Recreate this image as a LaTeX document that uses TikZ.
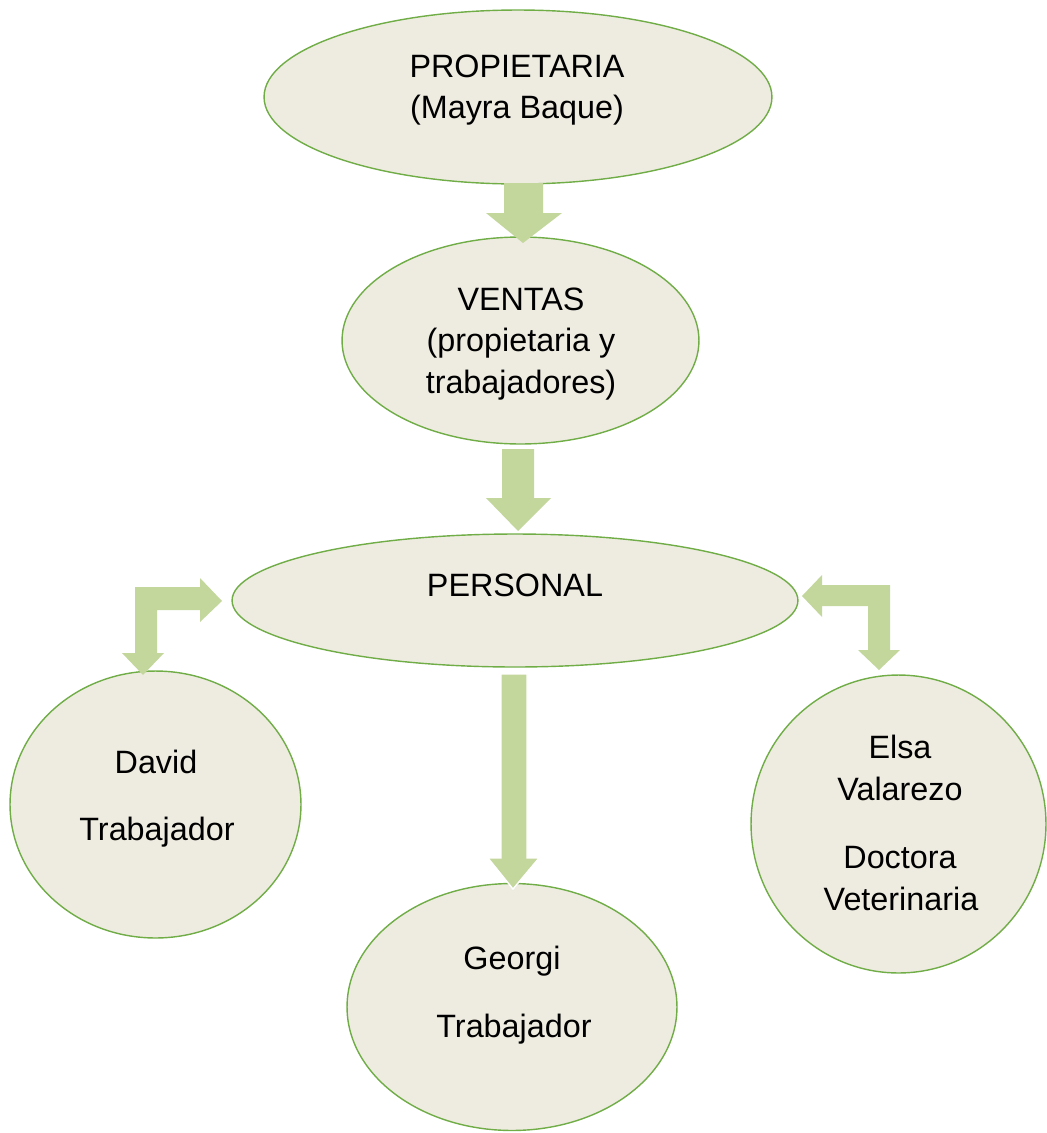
\documentclass[tikz,border=0pt]{standalone}
\usepackage{fontspec}
\setmainfont{Liberation Sans}
\usetikzlibrary{shapes.geometric}
\definecolor{ellfill}{HTML}{EEECE1}
\definecolor{ellline}{HTML}{70AD47}
\definecolor{arrfill}{HTML}{C3D69B}
\begin{document}
\begin{tikzpicture}[x=0.02cm, y=-0.02cm,
  bubble/.style={ellipse, draw=ellline, fill=ellfill, line width=0.8pt,
                 inner sep=0pt, outer sep=0pt},
  txt/.style={anchor=base, inner sep=0pt, font=\fontsize{18.4}{22}\selectfont},
  blockarrow/.style={fill=arrfill, draw=none}]
\useasboundingbox (0,0) rectangle (1046,1133);

% ellipses
\node[bubble, minimum width=10.16cm, minimum height=3.48cm] (prop) at (518,97) {};
\node[bubble, minimum width=7.14cm, minimum height=4.14cm] (ventas) at (520.5,340.5) {};
\node[bubble, minimum width=11.32cm, minimum height=2.66cm] (personal) at (515,600.5) {};
\node[bubble, minimum width=5.82cm, minimum height=5.34cm] (david) at (155.5,804.5) {};
\node[bubble, minimum width=6.6cm, minimum height=4.94cm] (georgi) at (512,1007) {};
\node[bubble, minimum width=5.9cm, minimum height=5.96cm] (elsa) at (898.5,824) {};

% texts
\node[txt] (t1a) at (517,77) {PROPIETARIA};
\node[txt] (t1b) at (517,118) {(Mayra Baque)};
\node[txt] (t2a) at (521,310) {VENTAS};
\node[txt] (t2b) at (521,351) {(propietaria y};
\node[txt] (t2c) at (521,393) {trabajadores)};
\node[txt] (t3) at (515,596) {PERSONAL};
\node[txt] (t4a) at (156,773) {David};
\node[txt] (t4b) at (157,840) {Trabajador};
\node[txt] (t5a) at (512,969) {Georgi};
\node[txt] (t5b) at (514,1037) {Trabajador};
\node[txt] (t6a) at (900,758) {Elsa};
\node[txt] (t6b) at (900,800) {Valarezo};
\node[txt] (t6c) at (900,868) {Doctora};
\node[txt] (t6d) at (901,910) {Veterinaria};

% block arrows
\fill[blockarrow] (504,183) -- (543,183) -- (543,213) -- (562,213) -- (523,243)
  -- (486,213) -- (504,213) -- cycle;
\fill[blockarrow] (502,449) -- (534,449) -- (534,498) -- (551,498) -- (518,531)
  -- (486,498) -- (502,498) -- cycle;
\filldraw[blockarrow, draw=white, line width=0.8pt] (501,674) -- (527,674) -- (527,858)
  -- (539,858) -- (513,889) -- (488,858) -- (501,858) -- cycle;
% bent arrow on the left
\fill[blockarrow] (135,587) -- (200,587) -- (200,578) -- (222,601) -- (200,622)
  -- (200,610) -- (157,610) -- (157,653) -- (164,653) -- (143,675) -- (122,653)
  -- (135,653) -- cycle;
% bent arrow on the right
\fill[blockarrow] (890,585) -- (822,585) -- (822,575) -- (802,596) -- (822,617)
  -- (822,606) -- (868,606) -- (868,650) -- (858,650) -- (879,670) -- (900,650)
  -- (890,650) -- cycle;
\end{tikzpicture}
\end{document}
